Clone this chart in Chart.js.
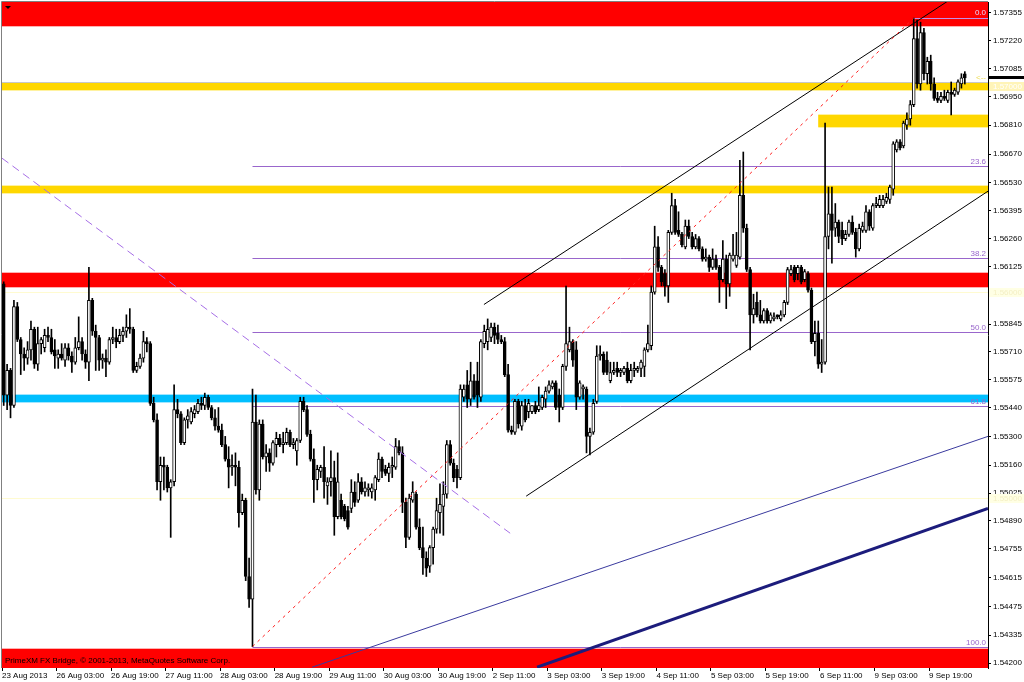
<!DOCTYPE html>
<html>
<head>
<meta charset="utf-8">
<script src="https://cdn.jsdelivr.net/npm/chart.js@4.4.0/dist/chart.umd.min.js"></script>
<style>
  html, body { margin: 0; padding: 0; background: #fff; }
  canvas { display: block; }
</style>
</head>
<body>
<canvas id="chart" width="1024" height="682"></canvas>
<script>
// GBPUSD-style H1 chart, one label every 16 bars
const timeLabels = ["23 Aug 2013", "26 Aug 03:00", "26 Aug 19:00", "27 Aug 11:00", "28 Aug 03:00",
    "28 Aug 19:00", "29 Aug 11:00", "30 Aug 03:00", "30 Aug 19:00", "2 Sep 11:00", "3 Sep 03:00",
    "3 Sep 19:00", "4 Sep 11:00", "5 Sep 03:00", "5 Sep 19:00", "6 Sep 11:00", "9 Sep 03:00", "9 Sep 19:00"];
const labelStep = 16;

const opens = [
    1.5604, 1.5550, 1.5562, 1.5545, 1.5593, 1.5577, 1.5570, 1.5568, 1.5572, 1.5582,
    1.5565, 1.5575, 1.5573, 1.5579, 1.5578, 1.5572, 1.5568, 1.5570, 1.5567, 1.5573,
    1.5569, 1.5566, 1.5573, 1.5576, 1.5570, 1.5566, 1.5596, 1.5581, 1.5578, 1.5567,
    1.5568, 1.5566, 1.5577, 1.5578, 1.5576, 1.5579, 1.5581, 1.5583, 1.5582, 1.5562,
    1.5564, 1.5568, 1.5576, 1.5575, 1.5546, 1.5538, 1.5508, 1.5516, 1.5515, 1.5505,
    1.5508, 1.5543, 1.5541, 1.5527, 1.5538, 1.5537, 1.5541, 1.5542, 1.5546, 1.5545,
    1.5549, 1.5544, 1.5539, 1.5535, 1.5533, 1.5526, 1.5519, 1.5515, 1.5516, 1.5515,
    1.5493, 1.5499, 1.5462, 1.5451, 1.5537, 1.5504, 1.5536, 1.5520, 1.5522, 1.5517,
    1.5526, 1.5529, 1.5526, 1.5527, 1.5532, 1.5526, 1.5523, 1.5528, 1.5547, 1.5543,
    1.5531, 1.5519, 1.5509, 1.5513, 1.5515, 1.5506, 1.5508, 1.5510, 1.5491, 1.5499,
    1.5496, 1.5494, 1.5495, 1.5503, 1.5499, 1.5508, 1.5503, 1.5504, 1.5503, 1.5504,
    1.5509, 1.5519, 1.5514, 1.5512, 1.5515, 1.5515, 1.5525, 1.5522, 1.5498, 1.5481,
    1.5499, 1.5502, 1.5486, 1.5476, 1.5471, 1.5467, 1.5476, 1.5485, 1.5493, 1.5496,
    1.5502, 1.5526, 1.5517, 1.5514, 1.5510, 1.5549, 1.5555, 1.5548, 1.5557, 1.5557,
    1.5549, 1.5575, 1.5576, 1.5578, 1.5583, 1.5580, 1.5577, 1.5576, 1.5560, 1.5533,
    1.5532, 1.5547, 1.5535, 1.5545, 1.5542, 1.5542, 1.5545, 1.5543, 1.5544, 1.5548,
    1.5552, 1.5554, 1.5556, 1.5550, 1.5544, 1.5564, 1.5572, 1.5576, 1.5572, 1.5549,
    1.5553, 1.5553, 1.5530, 1.5532, 1.5547, 1.5569, 1.5570, 1.5567, 1.5557, 1.5561,
    1.5563, 1.5561, 1.5561, 1.5563, 1.5557, 1.5562, 1.5562, 1.5563, 1.5564, 1.5572,
    1.5574, 1.5600, 1.5622, 1.5612, 1.5609, 1.5603, 1.5629, 1.5642, 1.5630, 1.5628,
    1.5622, 1.5632, 1.5627, 1.5622, 1.5626, 1.5621, 1.5616, 1.5617, 1.5612, 1.5616,
    1.5612, 1.5606, 1.5616, 1.5604, 1.5616, 1.5613, 1.5617, 1.5647, 1.5631, 1.5611,
    1.5589, 1.5595, 1.5589, 1.5586, 1.5591, 1.5586, 1.5587, 1.5589, 1.5587, 1.5589,
    1.5595, 1.5609, 1.5612, 1.5609, 1.5612, 1.5606, 1.5609, 1.5601, 1.5576, 1.5580,
    1.5565, 1.5566, 1.5627, 1.5638, 1.5631, 1.5634, 1.5630, 1.5626, 1.5628, 1.5634,
    1.5629, 1.5621, 1.5630, 1.5630, 1.5639, 1.5631, 1.5642, 1.5642, 1.5642, 1.5644,
    1.5645, 1.5650, 1.5669, 1.5673, 1.5671, 1.5681, 1.5684, 1.5691, 1.5723, 1.5701,
    1.5726, 1.5706, 1.5712, 1.5701, 1.5694, 1.5693, 1.5695, 1.5693, 1.5697, 1.5696,
    1.5697, 1.5701, 1.5706
];
const highs = [
    1.5605, 1.5565, 1.5563, 1.5596, 1.5595, 1.5578, 1.5573, 1.5576, 1.5586, 1.5583,
    1.5583, 1.5578, 1.5582, 1.5583, 1.5582, 1.5577, 1.5572, 1.5575, 1.5575, 1.5575,
    1.5571, 1.5578, 1.5588, 1.5578, 1.5572, 1.5612, 1.5597, 1.5584, 1.5579, 1.5570,
    1.5572, 1.5578, 1.5583, 1.5582, 1.5582, 1.5583, 1.5589, 1.5592, 1.5583, 1.5566,
    1.5570, 1.5581, 1.5578, 1.5576, 1.5549, 1.5541, 1.5520, 1.5520, 1.5516, 1.5509,
    1.5555, 1.5548, 1.5542, 1.5539, 1.5543, 1.5544, 1.5545, 1.5548, 1.5549, 1.5551,
    1.5550, 1.5545, 1.5543, 1.5544, 1.5536, 1.5530, 1.5525, 1.5521, 1.5522, 1.5518,
    1.5502, 1.5500, 1.5471, 1.5553, 1.5550, 1.5538, 1.5538, 1.5526, 1.5524, 1.5528,
    1.5532, 1.5531, 1.5532, 1.5534, 1.5533, 1.5529, 1.5529, 1.5549, 1.5549, 1.5545,
    1.5533, 1.5524, 1.5516, 1.5516, 1.5525, 1.5510, 1.5523, 1.5518, 1.5522, 1.5502,
    1.5497, 1.5496, 1.5509, 1.5508, 1.5512, 1.5510, 1.5508, 1.5507, 1.5507, 1.5511,
    1.5522, 1.5520, 1.5516, 1.5517, 1.5520, 1.5529, 1.5528, 1.5525, 1.5500, 1.5502,
    1.5508, 1.5503, 1.5490, 1.5486, 1.5474, 1.5477, 1.5486, 1.5500, 1.5507, 1.5508,
    1.5528, 1.5528, 1.5519, 1.5516, 1.5555, 1.5555, 1.5562, 1.5566, 1.5560, 1.5566,
    1.5577, 1.5584, 1.5587, 1.5585, 1.5585, 1.5584, 1.5579, 1.5578, 1.5565, 1.5535,
    1.5548, 1.5548, 1.5547, 1.5548, 1.5548, 1.5545, 1.5547, 1.5554, 1.5550, 1.5554,
    1.5557, 1.5557, 1.5557, 1.5553, 1.5565, 1.5603, 1.5583, 1.5577, 1.5576, 1.5557,
    1.5555, 1.5554, 1.5534, 1.5548, 1.5574, 1.5574, 1.5571, 1.5571, 1.5566, 1.5566,
    1.5566, 1.5563, 1.5564, 1.5566, 1.5565, 1.5566, 1.5564, 1.5567, 1.5573, 1.5584,
    1.5603, 1.5632, 1.5627, 1.5613, 1.5611, 1.5630, 1.5648, 1.5645, 1.5639, 1.5629,
    1.5635, 1.5635, 1.5629, 1.5628, 1.5627, 1.5622, 1.5621, 1.5618, 1.5621, 1.5618,
    1.5613, 1.5625, 1.5618, 1.5619, 1.5628, 1.5629, 1.5664, 1.5668, 1.5633, 1.5612,
    1.5599, 1.5600, 1.5596, 1.5592, 1.5592, 1.5590, 1.5590, 1.5589, 1.5591, 1.5596,
    1.5612, 1.5613, 1.5613, 1.5613, 1.5613, 1.5611, 1.5610, 1.5602, 1.5586, 1.5586,
    1.5577, 1.5682, 1.5651, 1.5651, 1.5643, 1.5635, 1.5634, 1.5630, 1.5635, 1.5637,
    1.5631, 1.5633, 1.5634, 1.5642, 1.5640, 1.5643, 1.5646, 1.5647, 1.5647, 1.5648,
    1.5652, 1.5673, 1.5674, 1.5674, 1.5683, 1.5687, 1.5693, 1.5733, 1.5732, 1.5731,
    1.5728, 1.5714, 1.5715, 1.5704, 1.5697, 1.5697, 1.5698, 1.5698, 1.5702, 1.5699,
    1.5703, 1.5706, 1.5707
];
const lows = [
    1.5545, 1.5543, 1.5539, 1.5544, 1.5576, 1.5560, 1.5562, 1.5565, 1.5567, 1.5563,
    1.5562, 1.5570, 1.5571, 1.5576, 1.5570, 1.5563, 1.5563, 1.5567, 1.5564, 1.5567,
    1.5561, 1.5565, 1.5572, 1.5567, 1.5563, 1.5557, 1.5579, 1.5562, 1.5562, 1.5563,
    1.5559, 1.5565, 1.5575, 1.5573, 1.5575, 1.5576, 1.5578, 1.5580, 1.5561, 1.5561,
    1.5563, 1.5566, 1.5571, 1.5545, 1.5537, 1.5504, 1.5499, 1.5504, 1.5503, 1.5481,
    1.5506, 1.5539, 1.5526, 1.5526, 1.5534, 1.5536, 1.5539, 1.5541, 1.5543, 1.5543,
    1.5543, 1.5538, 1.5533, 1.5532, 1.5525, 1.5518, 1.5505, 1.5511, 1.5506, 1.5486,
    1.5492, 1.5460, 1.5447, 1.5428, 1.5502, 1.5499, 1.5519, 1.5513, 1.5513, 1.5516,
    1.5520, 1.5525, 1.5522, 1.5526, 1.5525, 1.5524, 1.5516, 1.5527, 1.5542, 1.5530,
    1.5518, 1.5498, 1.5504, 1.5510, 1.5500, 1.5497, 1.5501, 1.5482, 1.5490, 1.5490,
    1.5489, 1.5485, 1.5493, 1.5496, 1.5498, 1.5502, 1.5501, 1.5501, 1.5500, 1.5499,
    1.5508, 1.5510, 1.5511, 1.5508, 1.5510, 1.5514, 1.5521, 1.5493, 1.5476, 1.5480,
    1.5498, 1.5485, 1.5475, 1.5463, 1.5462, 1.5464, 1.5468, 1.5483, 1.5483, 1.5482,
    1.5500, 1.5516, 1.5508, 1.5505, 1.5509, 1.5547, 1.5544, 1.5545, 1.5548, 1.5544,
    1.5547, 1.5573, 1.5572, 1.5576, 1.5575, 1.5575, 1.5575, 1.5559, 1.5532, 1.5531,
    1.5531, 1.5534, 1.5533, 1.5537, 1.5539, 1.5541, 1.5541, 1.5542, 1.5543, 1.5544,
    1.5551, 1.5553, 1.5543, 1.5537, 1.5543, 1.5562, 1.5571, 1.5564, 1.5543, 1.5548,
    1.5548, 1.5522, 1.5521, 1.5531, 1.5546, 1.5567, 1.5560, 1.5560, 1.5556, 1.5560,
    1.5559, 1.5559, 1.5560, 1.5556, 1.5556, 1.5559, 1.5561, 1.5559, 1.5559, 1.5571,
    1.5572, 1.5599, 1.5610, 1.5603, 1.5598, 1.5595, 1.5628, 1.5628, 1.5627, 1.5622,
    1.5621, 1.5626, 1.5621, 1.5621, 1.5620, 1.5615, 1.5615, 1.5610, 1.5611, 1.5611,
    1.5595, 1.5605, 1.5592, 1.5598, 1.5615, 1.5612, 1.5616, 1.5629, 1.5610, 1.5572,
    1.5585, 1.5588, 1.5585, 1.5585, 1.5585, 1.5585, 1.5586, 1.5587, 1.5586, 1.5588,
    1.5594, 1.5608, 1.5605, 1.5606, 1.5604, 1.5605, 1.5600, 1.5575, 1.5569, 1.5563,
    1.5561, 1.5565, 1.5621, 1.5614, 1.5627, 1.5624, 1.5623, 1.5625, 1.5627, 1.5628,
    1.5617, 1.5620, 1.5629, 1.5629, 1.5630, 1.5630, 1.5641, 1.5641, 1.5641, 1.5643,
    1.5643, 1.5647, 1.5668, 1.5669, 1.5670, 1.5679, 1.5681, 1.5690, 1.5699, 1.5698,
    1.5703, 1.5701, 1.5698, 1.5693, 1.5692, 1.5692, 1.5693, 1.5692, 1.5686, 1.5695,
    1.5696, 1.5699, 1.5701
];
const closes = [
    1.5550, 1.5562, 1.5545, 1.5593, 1.5577, 1.5570, 1.5568, 1.5572, 1.5582, 1.5565,
    1.5575, 1.5577, 1.5579, 1.5578, 1.5571, 1.5569, 1.5570, 1.5568, 1.5573, 1.5569,
    1.5566, 1.5573, 1.5576, 1.5570, 1.5566, 1.5596, 1.5581, 1.5578, 1.5567, 1.5568,
    1.5566, 1.5577, 1.5578, 1.5576, 1.5579, 1.5581, 1.5583, 1.5582, 1.5562, 1.5564,
    1.5568, 1.5576, 1.5575, 1.5546, 1.5538, 1.5508, 1.5516, 1.5515, 1.5505, 1.5508,
    1.5543, 1.5541, 1.5527, 1.5538, 1.5540, 1.5542, 1.5543, 1.5546, 1.5545, 1.5549,
    1.5544, 1.5539, 1.5535, 1.5533, 1.5526, 1.5519, 1.5515, 1.5516, 1.5515, 1.5493,
    1.5499, 1.5462, 1.5451, 1.5537, 1.5504, 1.5536, 1.5520, 1.5522, 1.5517, 1.5527,
    1.5529, 1.5526, 1.5527, 1.5532, 1.5526, 1.5527, 1.5528, 1.5547, 1.5543, 1.5531,
    1.5519, 1.5509, 1.5514, 1.5515, 1.5508, 1.5508, 1.5510, 1.5491, 1.5508, 1.5491,
    1.5490, 1.5486, 1.5503, 1.5498, 1.5508, 1.5503, 1.5505, 1.5505, 1.5505, 1.5510,
    1.5519, 1.5513, 1.5512, 1.5515, 1.5516, 1.5525, 1.5522, 1.5498, 1.5481, 1.5500,
    1.5503, 1.5486, 1.5476, 1.5471, 1.5466, 1.5476, 1.5485, 1.5494, 1.5497, 1.5502,
    1.5526, 1.5517, 1.5510, 1.5510, 1.5553, 1.5553, 1.5548, 1.5557, 1.5549, 1.5550,
    1.5576, 1.5581, 1.5582, 1.5583, 1.5579, 1.5577, 1.5576, 1.5560, 1.5533, 1.5532,
    1.5547, 1.5536, 1.5545, 1.5538, 1.5546, 1.5545, 1.5542, 1.5545, 1.5549, 1.5552,
    1.5555, 1.5556, 1.5544, 1.5544, 1.5564, 1.5575, 1.5576, 1.5567, 1.5549, 1.5556,
    1.5554, 1.5530, 1.5532, 1.5546, 1.5569, 1.5570, 1.5561, 1.5561, 1.5561, 1.5562,
    1.5561, 1.5562, 1.5563, 1.5557, 1.5562, 1.5563, 1.5563, 1.5566, 1.5572, 1.5575,
    1.5600, 1.5622, 1.5612, 1.5605, 1.5603, 1.5629, 1.5642, 1.5629, 1.5628, 1.5623,
    1.5632, 1.5627, 1.5622, 1.5626, 1.5621, 1.5616, 1.5617, 1.5612, 1.5616, 1.5612,
    1.5606, 1.5616, 1.5604, 1.5618, 1.5618, 1.5618, 1.5647, 1.5631, 1.5611, 1.5589,
    1.5592, 1.5589, 1.5586, 1.5591, 1.5586, 1.5589, 1.5588, 1.5588, 1.5589, 1.5595,
    1.5611, 1.5611, 1.5606, 1.5612, 1.5605, 1.5610, 1.5601, 1.5576, 1.5580, 1.5565,
    1.5566, 1.5627, 1.5638, 1.5630, 1.5634, 1.5627, 1.5626, 1.5628, 1.5634, 1.5629,
    1.5621, 1.5631, 1.5632, 1.5639, 1.5632, 1.5642, 1.5643, 1.5645, 1.5645, 1.5646,
    1.5651, 1.5672, 1.5673, 1.5670, 1.5682, 1.5684, 1.5691, 1.5723, 1.5701, 1.5726,
    1.5706, 1.5712, 1.5701, 1.5694, 1.5693, 1.5695, 1.5694, 1.5697, 1.5696, 1.5698,
    1.5702, 1.5704, 1.5704
];

// price axis labels as printed on the right
const yTicks = [1.57355, 1.57220, 1.57085, 1.56950, 1.56810, 1.56670, 1.56530, 1.56395, 1.56260,
    1.56125, 1.55845, 1.55710, 1.55575, 1.55440, 1.55300, 1.55160, 1.55025, 1.54890, 1.54755,
    1.54615, 1.54475, 1.54335, 1.54200];
const yMin = 1.54176, yMax = 1.57408;

// horizontal zones [low, high, first bar]
const redZones = [[1.5729, 1.5745, -1], [1.56025, 1.56093, -1], [1.5405, 1.5427, -1]];
const goldZones = [[1.56981, 1.57015, -1], [1.56481, 1.56515, -1], [1.56802, 1.56860, 239]];
const cyanZones = [[1.55467, 1.55501, -1]];
const paleLevels = [1.5600, 1.5500];
const greyLevel = 1.5702;
const bidPrice = 1.5704;

// fibonacci from the 28 Aug low to the 9 Sep high
const fibStartBar = 73, fibEndBar = 267;
const fibLevels = [0, 23.6, 38.2, 50, 61.8, 100];

// trendlines, [bar, price] pairs
const channelUpper = [[140.9, 1.5594], [288.8, 1.5754]];
const channelLower = [[153.3, 1.5501], [288.8, 1.5649]];
const violetDash = [[-0.5, 1.5665], [148.6, 1.5483]];
const blueThin = [[90.5, 1.5418], [288.8, 1.5530]];
const blueThick = [[156.5, 1.5418], [288.8, 1.5495]];

document.addEventListener("DOMContentLoaded", () => {
    const fibLow = lows[fibStartBar];
    const fibHigh = highs[fibEndBar];
    const font = '"Liberation Sans", Arial, sans-serif';

    const pts = arr => arr.map(p => ({ x: p[0], y: p[1] }));
    const line = (arr, color, width, dash) => ({
        type: "line",
        data: pts(arr),
        borderColor: color,
        borderWidth: width,
        borderDash: dash || [],
        pointRadius: 0,
        fill: false,
        clip: 0
    });

    const overlay = {
        id: "overlay",
        beforeDatasetsDraw(chart) {
            const { ctx, chartArea: a, scales: { x, y } } = chart;
            ctx.save();
            ctx.beginPath();
            ctx.rect(a.left, a.top, a.right - a.left, a.bottom - a.top);
            ctx.clip();

            const band = (z, fill, edge) => {
                const x0 = Math.max(a.left, x.getPixelForValue(z[2]));
                const y0 = Math.round(y.getPixelForValue(z[1]));
                const y1 = Math.round(y.getPixelForValue(z[0]));
                if (edge) {
                    ctx.fillStyle = edge;
                    ctx.fillRect(x0, y0 - 1, a.right - x0, y1 - y0 + 2);
                }
                ctx.fillStyle = fill;
                ctx.fillRect(x0, y0, a.right - x0, y1 - y0);
            };
            redZones.forEach(z => band(z, "#ff0000", "#ffb0b0"));
            goldZones.forEach(z => band(z, "#ffd700", "#fff2a0"));
            cyanZones.forEach(z => band(z, "#00bfff", "#a0e6ff"));

            const hline = (v, color, x0) => {
                const py = Math.round(y.getPixelForValue(v)) + 0.5;
                ctx.strokeStyle = color;
                ctx.lineWidth = 1;
                ctx.beginPath();
                ctx.moveTo(x0, py);
                ctx.lineTo(a.right, py);
                ctx.stroke();
            };
            paleLevels.forEach(v => hline(v, "#fffbd0", a.left));
            hline(greyLevel, "#c8c8c8", a.left);

            // fib levels start at the low; the 0.0 level is hidden by the red zone until the high
            const fx = x.getPixelForValue(fibStartBar);
            const hx = x.getPixelForValue(fibEndBar);
            fibLevels.forEach(l => hline(fibHigh - (fibHigh - fibLow) * l / 100, l === 0 ? "#c090e8" : "#9966cc", l === 0 ? hx : fx));
            ctx.restore();
        },
        afterDraw(chart) {
            const { ctx, chartArea: a, scales: { y } } = chart;
            ctx.save();
            ctx.font = "8px " + font;
            ctx.textBaseline = "alphabetic";

            // fib level labels
            ctx.textAlign = "right";
            fibLevels.forEach(l => {
                const py = y.getPixelForValue(fibHigh - (fibHigh - fibLow) * l / 100);
                ctx.fillStyle = l === 0 ? "#e6d8ff" : "#9966cc";
                ctx.fillText(l.toFixed(1), a.right - 2, py - (l === 0 ? 3 : 2));
            });
            ctx.fillStyle = "#eedd55";
            ctx.fillText("<--", a.right - 2, y.getPixelForValue(bidPrice) + 2);

            // copyright strip
            ctx.textAlign = "left";
            ctx.fillStyle = "#000";
            ctx.fillText("PrimeXM FX Bridge, \u00a9 2001-2013, MetaQuotes Software Corp.", 5, 663);

            // window frame
            ctx.strokeStyle = "#808080";
            ctx.lineWidth = 1;
            ctx.beginPath();
            ctx.moveTo(1.5, a.bottom);
            ctx.lineTo(1.5, 1.5);
            ctx.lineTo(a.right, 1.5);
            ctx.stroke();

            // menu triangle
            ctx.fillStyle = "#000";
            ctx.beginPath();
            ctx.moveTo(5, 6);
            ctx.lineTo(11, 6);
            ctx.lineTo(8, 9);
            ctx.closePath();
            ctx.fill();

            // price boxes on the axis
            const box = (v, fill, color) => {
                const py = Math.round(y.getPixelForValue(v));
                ctx.fillStyle = fill;
                ctx.fillRect(a.right + 1, py - 4, 1024 - a.right, 9);
                ctx.fillStyle = color;
                ctx.fillText(v.toFixed(5), a.right + 5, py + 3);
            };
            paleLevels.forEach(v => box(v, "#ffffe4", "#f4efc4"));
            box(1.5700, "#fff4b8", "#ffffff");
            ctx.fillStyle = "#000";
            ctx.fillRect(a.right + 1, Math.round(y.getPixelForValue(bidPrice)) - 2, 1024 - a.right, 3);
            ctx.restore();
        }
    };

    const bodyColors = opens.map((o, i) => closes[i] >= o ? "#ffffff" : "#000000");
    const noPad = s => { s.paddingTop = 0; s.paddingBottom = 0; s.paddingLeft = 0; s.paddingRight = 0; };

    new Chart(document.getElementById("chart"), {
        type: "bar",
        data: {
            datasets: [
                line([[fibStartBar, fibLow], [fibEndBar, fibHigh]], "#ff2020", 1, [3, 4]),
                line(channelUpper, "#000000", 1),
                line(channelLower, "#000000", 1),
                line(violetDash, "#a66ee6", 1, [8, 5]),
                line(blueThin, "#3a3a9e", 1),
                line(blueThick, "#1c1c7c", 3),
                {
                    data: opens.map((o, i) => ({ x: i, y: [o, closes[i]] })),
                    backgroundColor: bodyColors,
                    borderColor: "#000000",
                    borderWidth: 1,
                    borderSkipped: false,
                    barThickness: 3,
                    grouped: false
                },
                {
                    data: lows.map((l, i) => ({ x: i, y: [l, highs[i]] })),
                    backgroundColor: "#000000",
                    borderWidth: 0,
                    barThickness: 1,
                    grouped: false
                }
            ]
        },
        options: {
            responsive: false,
            animation: false,
            devicePixelRatio: 1,
            layout: { padding: { left: 2, top: 2, right: 0, bottom: 0 } },
            plugins: { legend: { display: false }, tooltip: { enabled: false } },
            scales: {
                x: {
                    type: "linear",
                    min: -0.5,
                    max: 288.8,
                    offset: false,
                    afterBuildTicks: s => { s.ticks = timeLabels.map((t, k) => ({ value: k * labelStep - 0.5 })); },
                    afterFit: s => { s.height = 14; noPad(s); },
                    grid: { display: true, offset: false, drawOnChartArea: false, tickLength: 3, color: "#000" },
                    border: { display: false },
                    ticks: {
                        autoSkip: false, maxRotation: 0, minRotation: 0, align: "start", padding: 0,
                        color: "#000", font: { family: font, size: 8 },
                        callback: (v, idx) => timeLabels[idx]
                    }
                },
                y: {
                    position: "right",
                    min: yMin,
                    max: yMax,
                    afterBuildTicks: s => { s.ticks = yTicks.map(v => ({ value: v })); },
                    afterFit: s => { s.width = 36; noPad(s); },
                    grid: { display: true, drawOnChartArea: false, tickLength: 3, color: "#000" },
                    border: { display: true, color: "#000" },
                    ticks: {
                        autoSkip: false, padding: 2, color: "#000", font: { family: font, size: 8 },
                        callback: v => v.toFixed(5)
                    }
                }
            }
        },
        plugins: [overlay]
    });
});
</script>
</body>
</html>
